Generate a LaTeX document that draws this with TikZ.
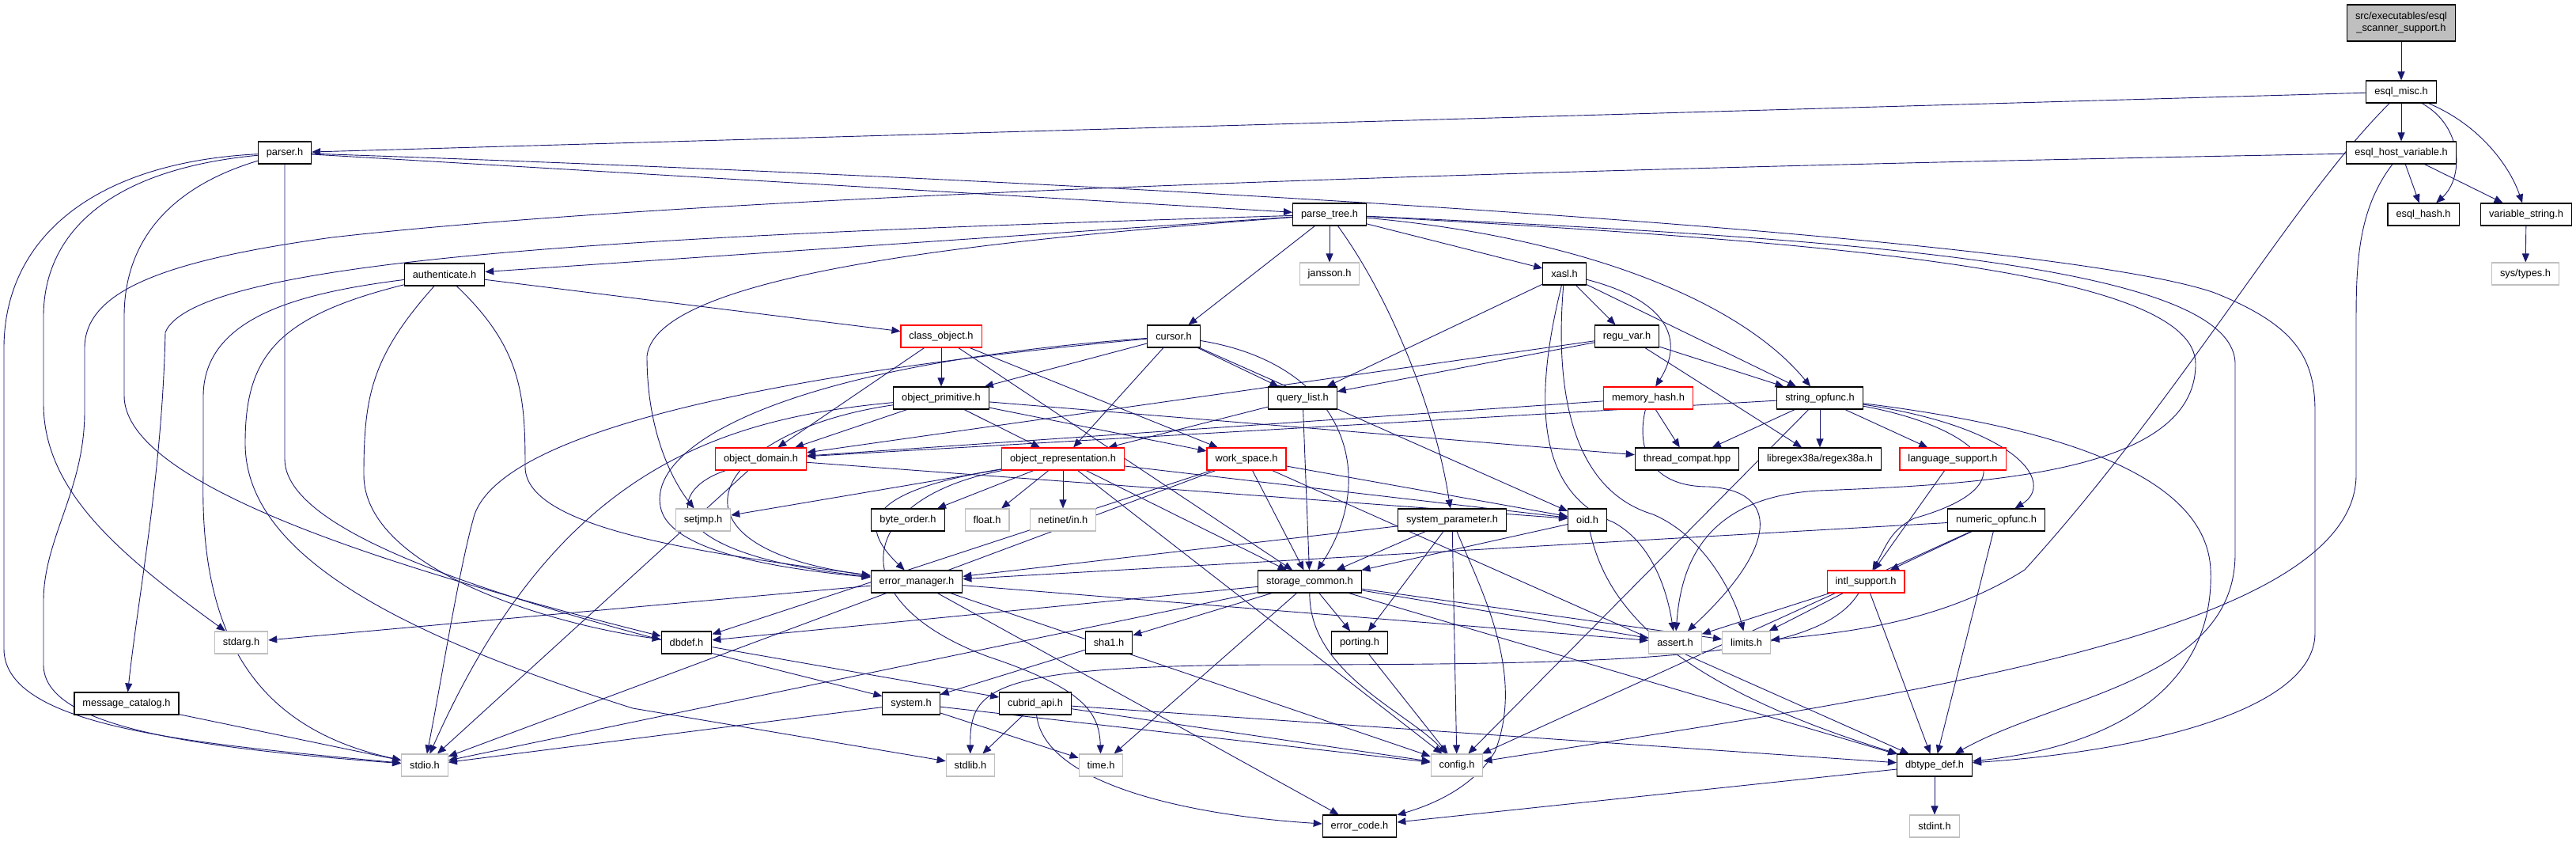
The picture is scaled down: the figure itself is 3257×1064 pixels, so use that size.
\documentclass[tikz,border=0pt]{standalone}
\usepackage{fontspec}
\setmainfont{Liberation Sans}
\usetikzlibrary{arrows.meta,backgrounds}
\definecolor{edgeblue}{RGB}{25,25,112}
\definecolor{extgrey}{RGB}{191,191,191}
\definecolor{rootfill}{RGB}{191,191,191}
\newcommand{\hfont}{\fontsize{12.8}{15}\selectfont}
\tikzset{
  hdr/.style={draw=black,fill=white,line width=1.1pt,minimum height=28pt,
              inner xsep=10.5pt,inner ysep=0pt,font=\hfont},
  hdrr/.style={hdr,draw=red},
  ext/.style={hdr,draw=extgrey},
  rootbox/.style={hdr,fill=rootfill,align=center,minimum height=46pt},
  dep/.style={-{Triangle[length=11pt,width=9pt]},draw=edgeblue,line width=0.9pt},
}

\begin{document}
\begin{tikzpicture}[x=1pt,y=-1pt]
  \useasboundingbox (0,0) rectangle (3257,1064);

  % headers
  \node[rootbox] (root) at (3036,29) {src/executables/esql\\\_scanner\_support.h};
  \node[hdr]  (esqlmisc)   at (3036,116) {esql\_misc.h};
  \node[hdr]  (hostvar)    at (3036,193) {esql\_host\_variable.h};
  \node[hdr]  (esqlhash)   at (3064,271) {esql\_hash.h};
  \node[hdr]  (varstr)     at (3194,271) {variable\_string.h};
  \node[ext]  (systypes)   at (3193,346) {sys/types.h};
  \node[hdr]  (parser)     at (360,193)  {parser.h};
  \node[hdr]  (authent)    at (562,347)  {authenticate.h};
  \node[hdr]  (parsetree)  at (1681,271) {parse\_tree.h};
  \node[ext]  (jansson)    at (1681,346) {jansson.h};
  \node[hdr]  (xasl)       at (1978,346) {xasl.h};
  \node[hdrr] (classobj)   at (1190,425) {class\_object.h};
  \node[hdr]  (cursor)     at (1484,425) {cursor.h};
  \node[hdr]  (reguvar)    at (2057,425) {regu\_var.h};
  \node[hdr]  (objprim)    at (1190,503) {object\_primitive.h};
  \node[hdr]  (querylist)  at (1647,503) {query\_list.h};
  \node[hdrr] (memhash)    at (2084,503) {memory\_hash.h};
  \node[hdr]  (stropf)     at (2301,503) {string\_opfunc.h};
  \node[hdrr] (objdomain)  at (962,580)  {object\_domain.h};
  \node[hdrr] (objrepr)    at (1344,580) {object\_representation.h};
  \node[hdrr] (workspace)  at (1576,580) {work\_space.h};
  \node[hdr]  (threadcomp) at (2133,580) {thread\_compat.hpp};
  \node[hdr]  (regex)      at (2301,580) {libregex38a/regex38a.h};
  \node[hdrr] (langsupp)   at (2469,580) {language\_support.h};
  \node[ext]  (setjmp)     at (889,657)  {setjmp.h};
  \node[hdr]  (byteorder)  at (1148,657) {byte\_order.h};
  \node[ext]  (floath)     at (1248,657) {float.h};
  \node[ext]  (netinet)    at (1344,657) {netinet/in.h};
  \node[hdr]  (syspar)     at (1836,657) {system\_parameter.h};
  \node[hdr]  (oid)        at (2007,657) {oid.h};
  \node[hdr]  (numopf)     at (2524,657) {numeric\_opfunc.h};
  \node[hdr]  (errmgr)     at (1159,735) {error\_manager.h};
  \node[hdr]  (storcommon) at (1656,735) {storage\_common.h};
  \node[hdrr] (intlsupp)   at (2359,735) {intl\_support.h};
  \node[ext]  (stdarg)     at (305,812)  {stdarg.h};
  \node[hdr]  (dbdef)      at (868,812)  {dbdef.h};
  \node[hdr]  (sha1)       at (1402,812) {sha1.h};
  \node[hdr]  (porting)    at (1719,812) {porting.h};
  \node[ext]  (asserth)    at (2118,812) {assert.h};
  \node[ext]  (limitsh)    at (2208,812) {limits.h};
  \node[hdr]  (msgcat)     at (160,889)  {message\_catalog.h};
  \node[hdr]  (systemh)    at (1152,889) {system.h};
  \node[hdr]  (cubridapi)  at (1309,889) {cubrid\_api.h};
  \node[ext]  (stdio)      at (537,967)  {stdio.h};
  \node[ext]  (stdlib)     at (1227,967) {stdlib.h};
  \node[ext]  (timeh)      at (1392,967) {time.h};
  \node[ext]  (config)     at (1842,967) {config.h};
  \node[hdr]  (dbtypedef)  at (2446,967) {dbtype\_def.h};
  \node[hdr]  (errcode)    at (1719,1044) {error\_code.h};
  \node[ext]  (stdint)     at (2446,1044) {stdint.h};

  \begin{scope}[on background layer]
  % top of the graph
  \draw[dep] (root) -- (esqlmisc);
  \draw[dep] (esqlmisc) -- (parser);
  \draw[dep] (esqlmisc) -- (hostvar);
  \draw[dep] (esqlmisc) .. controls (3115,160) and (3115,225) .. (esqlhash);
  \draw[dep] (esqlmisc) .. controls (3140,160) and (3175,215) .. (varstr);
  \draw[dep] (esqlmisc) .. controls (2900,250) and (2760,500) .. (2560,720)
                        .. controls (2450,790) and (2320,800) .. (limitsh);
  \draw[dep] (hostvar) -- (esqlhash);
  \draw[dep] (hostvar) -- (varstr);
  \draw[dep] (hostvar) .. controls (2985,260) and (2979,320) .. (2979,400) -- (2979,600)
                       .. controls (2979,800) and (2400,880) .. (config);
  \draw[dep] (hostvar) .. controls (2000,212) and (900,245) .. (420,300)
                       .. controls (200,330) and (107,370) .. (107,440) -- (107,520)
                       .. controls (107,620) and (55,680) .. (55,760) -- (55,840)
                       .. controls (55,920) and (250,945) .. (stdio);
  \draw[dep] (varstr) -- (systypes);

  % parser.h
  \draw[dep] (parser) -- (parsetree);
  \draw[dep] (parser) .. controls (120,205) and (5,300) .. (5,440) -- (5,820)
                      .. controls (5,920) and (250,940) .. (stdio);
  \draw[dep] (parser) .. controls (130,215) and (55,300) .. (55,400) -- (55,510)
                      .. controls (55,620) and (150,700) .. (stdarg);
  \draw[dep] (parser) .. controls (220,235) and (157,300) .. (157,400) -- (157,500)
                      .. controls (157,600) and (420,700) .. (dbdef);
  \draw[dep] (parser) -- (360,580) .. controls (360,700) and (800,800) .. (systemh);
  \draw[dep] (parser) .. controls (1500,232) and (2600,300) .. (2800,370)
                      .. controls (2900,410) and (2927,450) .. (2927,520) -- (2927,800)
                      .. controls (2927,900) and (2700,950) .. (dbtypedef);

  % parse_tree.h
  \draw[dep] (parsetree) -- (jansson);
  \draw[dep] (parsetree) -- (xasl);
  \draw[dep] (parsetree) -- (cursor);
  \draw[dep] (parsetree) -- (authent);
  \draw[dep] (parsetree) .. controls (1760,380) and (1815,520) .. (syspar);
  \draw[dep] (parsetree) .. controls (2000,300) and (2200,380) .. (stropf);
  \draw[dep] (parsetree) .. controls (900,295) and (250,320) .. (209,420)
                         .. controls (205,600) and (175,750) .. (msgcat);
  \draw[dep] (parsetree) .. controls (1300,300) and (830,340) .. (818,450)
                         .. controls (818,560) and (860,620) .. (setjmp);
  \draw[dep] (parsetree) .. controls (2300,300) and (2826,330) .. (2826,460) -- (2826,700)
                         .. controls (2826,860) and (2600,880) .. (dbtypedef);
  \draw[dep] (parsetree) .. controls (2300,305) and (2776,340) .. (2776,460)
                         .. controls (2776,600) and (2500,612) .. (2300,620)
                         .. controls (2150,628) and (2125,720) .. (asserth);

  % authenticate.h
  \draw[dep] (authent) -- (classobj);
  \draw[dep] (authent) .. controls (380,370) and (258,400) .. (257,500) -- (257,600)
                       .. controls (252,800) and (320,920) .. (stdio);
  \draw[dep] (authent) .. controls (350,400) and (310,450) .. (310,560)
                       .. controls (310,700) and (500,800) .. (800,895) -- (stdlib);
  \draw[dep] (authent) .. controls (470,450) and (460,500) .. (460,600)
                       .. controls (460,720) and (700,790) .. (dbdef);
  \draw[dep] (authent) .. controls (660,440) and (664,500) .. (664,590)
                       .. controls (664,670) and (900,700) .. (errmgr);

  % class_object.h and cursor.h
  \draw[dep] (classobj) -- (objprim);
  \draw[dep] (classobj) -- (objdomain);
  \draw[dep] (classobj) -- (workspace);
  \draw[dep] (classobj) -- (storcommon);
  \draw[dep] (cursor) -- (objprim);
  \draw[dep] (cursor) -- (objrepr);
  \draw[dep] (cursor) -- (querylist);
  \draw[dep] (cursor) -- (oid);
  \draw[dep] (cursor) .. controls (1700,460) and (1745,600) .. (storcommon);
  \draw[dep] (cursor) .. controls (1000,470) and (640,540) .. (600,650)
                      .. controls (580,720) and (560,850) .. (stdio);
  \draw[dep] (cursor) .. controls (1000,460) and (820,560) .. (835,640)
                      .. controls (845,700) and (1000,720) .. (errmgr);

  % object_primitive.h, object_domain.h, object_representation.h
  \draw[dep] (objprim) -- (objdomain);
  \draw[dep] (objprim) -- (objrepr);
  \draw[dep] (objprim) -- (workspace);
  \draw[dep] (objprim) -- (threadcomp);
  \draw[dep] (objprim) .. controls (900,530) and (700,600) .. (stdio);
  \draw[dep] (objprim) .. controls (900,545) and (820,690) .. (errmgr);
  \draw[dep] (objdomain) -- (stdio);
  \draw[dep] (objdomain) -- (oid);
  \draw[dep] (objdomain) .. controls (840,620) and (830,700) .. (errmgr);
  \draw[dep] (objrepr) -- (setjmp);
  \draw[dep] (objrepr) -- (byteorder);
  \draw[dep] (objrepr) -- (floath);
  \draw[dep] (objrepr) -- (netinet);
  \draw[dep] (objrepr) -- (storcommon);
  \draw[dep] (objrepr) -- (oid);
  \draw[dep] (objrepr) -- (config);
  \draw[dep] (objrepr) .. controls (1100,620) and (1080,660) .. (errmgr);
  \draw[dep] (objrepr) .. controls (1080,630) and (1060,760) .. (1250,830)
                       .. controls (1370,870) and (1390,900) .. (timeh);

  % query_list.h, work_space.h
  \draw[dep] (querylist) -- (objrepr);
  \draw[dep] (querylist) -- (storcommon);
  \draw[dep] (workspace) -- (stdio);
  \draw[dep] (workspace) -- (dbdef);
  \draw[dep] (workspace) -- (storcommon);
  \draw[dep] (workspace) -- (oid);
  \draw[dep] (workspace) -- (dbtypedef);

  % xasl.h, regu_var.h, memory_hash.h
  \draw[dep] (xasl) -- (querylist);
  \draw[dep] (xasl) -- (reguvar);
  \draw[dep] (xasl) .. controls (2110,380) and (2130,430) .. (memhash);
  \draw[dep] (xasl) -- (stropf);
  \draw[dep] (xasl) .. controls (1940,500) and (1940,620) .. (2040,660)
                    .. controls (2095,690) and (2110,760) .. (asserth);
  \draw[dep] (xasl) .. controls (1965,500) and (1990,620) .. (2090,650)
                    .. controls (2160,680) and (2195,760) .. (limitsh);
  \draw[dep] (reguvar) -- (querylist);
  \draw[dep] (reguvar) -- (objdomain);
  \draw[dep] (reguvar) -- (stropf);
  \draw[dep] (reguvar) -- (regex);
  \draw[dep] (memhash) -- (objdomain);
  \draw[dep] (memhash) -- (threadcomp);
  \draw[dep] (memhash) .. controls (2070,560) and (2080,615) .. (2160,615)
                       .. controls (2250,620) and (2250,690) .. (asserth);

  % string_opfunc.h and friends
  \draw[dep] (stropf) -- (threadcomp);
  \draw[dep] (stropf) -- (regex);
  \draw[dep] (stropf) -- (langsupp);
  \draw[dep] (stropf) -- (objdomain);
  \draw[dep] (stropf) -- (config);
  \draw[dep] (stropf) .. controls (2500,540) and (2580,610) .. (2420,655)
                      .. controls (2390,670) and (2385,690) .. (intlsupp);
  \draw[dep] (stropf) .. controls (2550,540) and (2600,610) .. (numopf);
  \draw[dep] (stropf) .. controls (2600,540) and (2790,600) .. (2795,720)
                      .. controls (2800,850) and (2700,940) .. (dbtypedef);
  \draw[dep] (langsupp) -- (intlsupp);
  \draw[dep] (numopf) -- (intlsupp);
  \draw[dep] (numopf) -- (errmgr);
  \draw[dep] (numopf) -- (config);
  \draw[dep] (numopf) -- (dbtypedef);

  % system_parameter.h, oid.h
  \draw[dep] (syspar) -- (errmgr);
  \draw[dep] (syspar) -- (storcommon);
  \draw[dep] (syspar) -- (porting);
  \draw[dep] (syspar) -- (config);
  \draw[dep] (syspar) .. controls (1870,740) and (1930,850) .. (1890,950)
                      .. controls (1860,1000) and (1800,1020) .. (errcode);
  \draw[dep] (oid) -- (storcommon);
  \draw[dep] (oid) .. controls (2030,760) and (2100,860) .. (dbtypedef);

  % error_manager.h, storage_common.h, intl_support.h
  \draw[dep] (errmgr) -- (stdarg);
  \draw[dep] (errmgr) -- (asserth);
  \draw[dep] (errmgr) -- (config);
  \draw[dep] (errmgr) -- (errcode);
  \draw[dep] (storcommon) -- (dbdef);
  \draw[dep] (storcommon) -- (sha1);
  \draw[dep] (storcommon) -- (timeh);
  \draw[dep] (storcommon) -- (porting);
  \draw[dep] (storcommon) .. controls (1655,850) and (1780,900) .. (config);
  \draw[dep] (storcommon) -- (asserth);
  \draw[dep] (storcommon) -- (limitsh);
  \draw[dep] (storcommon) -- (dbtypedef);
  \draw[dep] (storcommon) -- (stdio);
  \draw[dep] (intlsupp) -- (asserth);
  \draw[dep] (intlsupp) -- (limitsh);
  \draw[dep] (intlsupp) -- (dbtypedef);
  \draw[dep] (intlsupp) .. controls (2300,830) and (2100,840) .. (1600,840)
                        .. controls (1250,842) and (1226,870) .. (stdlib);

  % bottom rows
  \draw[dep] (sha1) -- (systemh);
  \draw[dep] (porting) -- (config);
  \draw[dep] (systemh) -- (stdio);
  \draw[dep] (systemh) -- (timeh);
  \draw[dep] (systemh) -- (config);
  \draw[dep] (dbdef) -- (cubridapi);
  \draw[dep] (cubridapi) -- (stdlib);
  \draw[dep] (cubridapi) -- (config);
  \draw[dep] (cubridapi) -- (dbtypedef);
  \draw[dep] (cubridapi) .. controls (1320,990) and (1500,1030) .. (errcode);
  \draw[dep] (msgcat) -- (stdio);
  \draw[dep] (dbtypedef) -- (stdint);
  \draw[dep] (dbtypedef) -- (errcode);
  \end{scope}
\end{tikzpicture}
\end{document}
